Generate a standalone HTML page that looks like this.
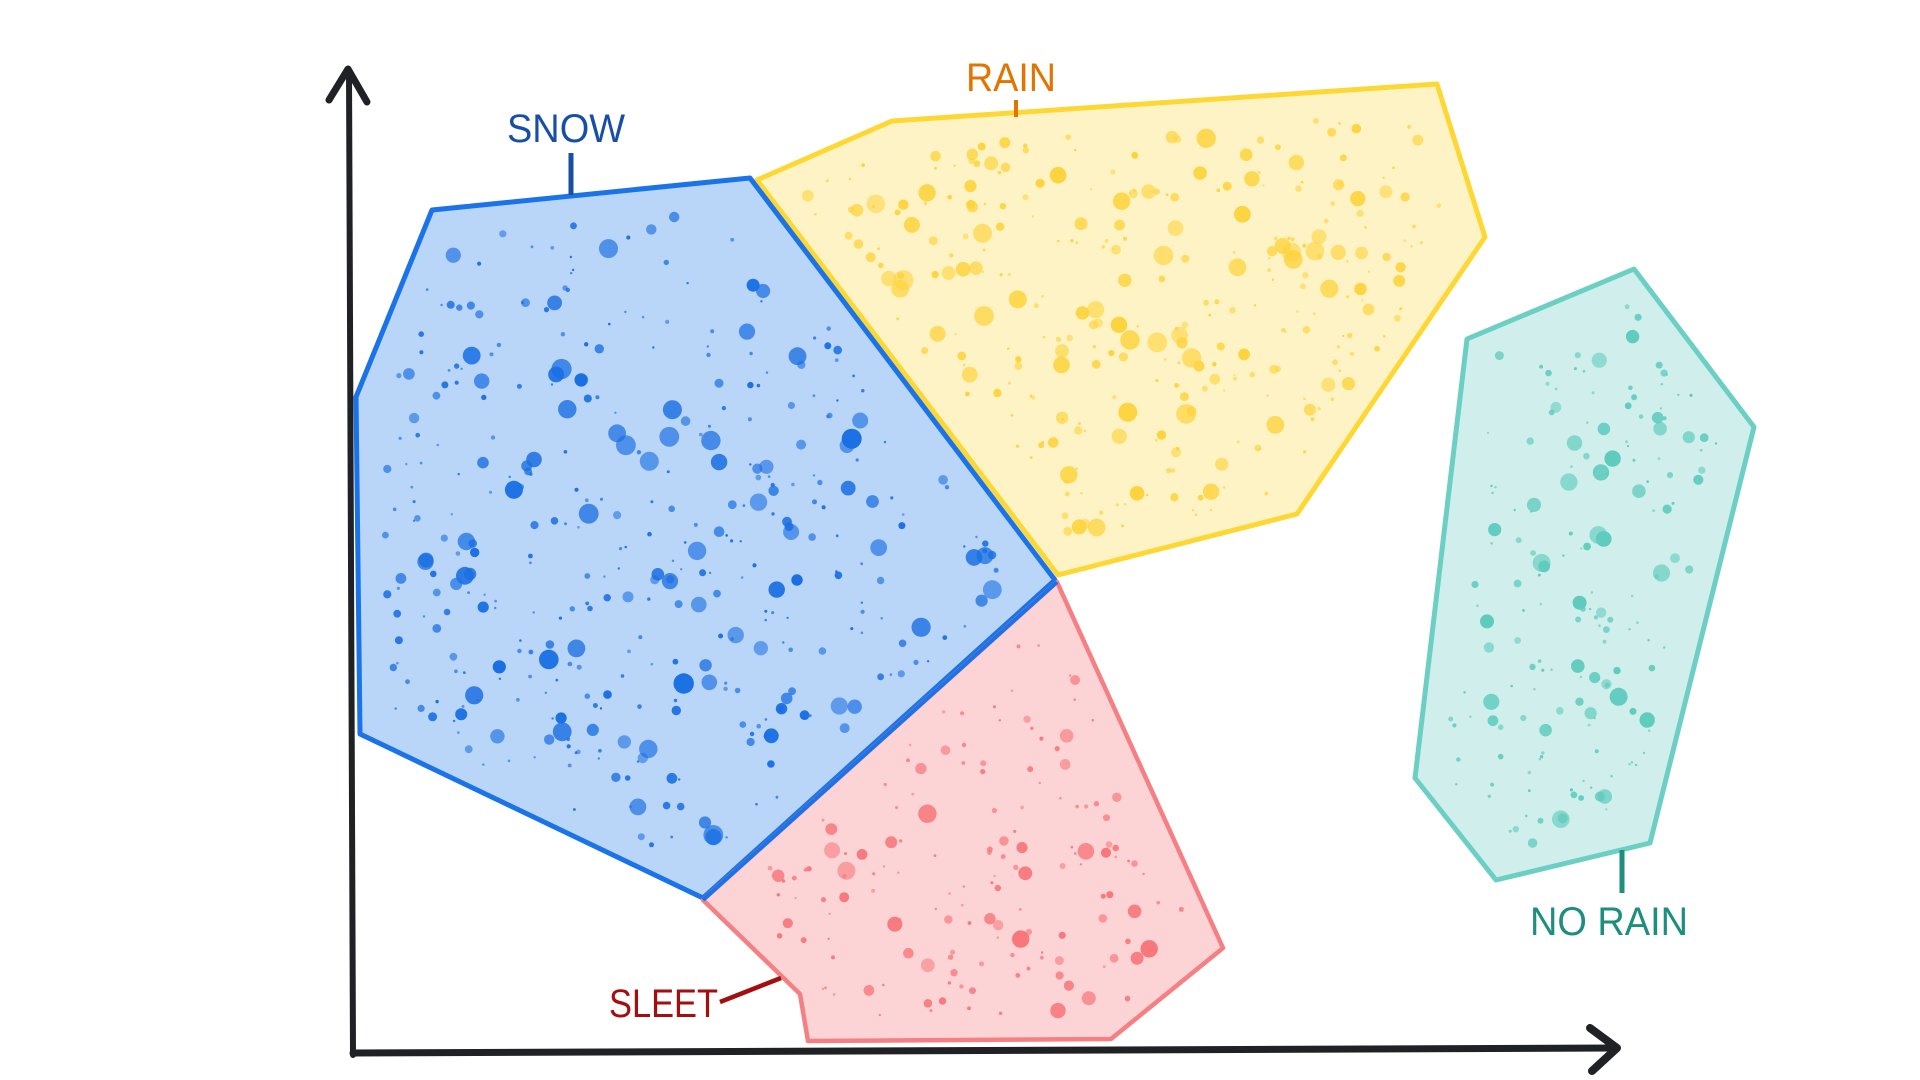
<!DOCTYPE html>
<html>
<head>
<meta charset="utf-8">
<style>
  html, body { margin:0; padding:0; background:#ffffff; }
  body { width:1920px; height:1080px; overflow:hidden; }
  svg { display:block; }
  .lbl { font-family: "Liberation Sans", sans-serif; font-size:40px; }
</style>
</head>
<body>
<svg id="chart" xmlns="http://www.w3.org/2000/svg" width="1920" height="1080" viewBox="0 0 1920 1080">
  <rect x="0" y="0" width="1920" height="1080" fill="#ffffff"/>

  <defs>
    <clipPath id="cRain"><polygon points="757,180 892,121 1437,84 1485,237 1297,514 1058,575"/></clipPath>
    <clipPath id="cSnow"><polygon points="432,210 750,178 1055,580 703,898 360,734 356,397"/></clipPath>
    <clipPath id="cSleet"><polygon points="1057,582 1223,948 1111,1039 808,1041 800,994 703,900"/></clipPath>
    <clipPath id="cNo"><polygon points="1634,269 1754,427 1650,843 1496,880 1415,778 1467,339"/></clipPath>
  </defs>

  <!-- RAIN -->
  <polygon points="757,180 892,121 1437,84 1485,237 1297,514 1058,575" fill="#fef3c4"/>
  <g id="dRain" clip-path="url(#cRain)"></g>
  <polygon points="757,180 892,121 1437,84 1485,237 1297,514 1058,575" fill="none" stroke="#fdd835" stroke-width="5" stroke-linejoin="round"/>

  <!-- SNOW -->
  <polygon points="432,210 750,178 1055,580 703,898 360,734 356,397" fill="#b9d5f7"/>
  <g id="dSnow" clip-path="url(#cSnow)"></g>
  <polygon points="432,210 750,178 1055,580 703,898 360,734 356,397" fill="none" stroke="#1a73e8" stroke-width="5" stroke-linejoin="round"/>

  <!-- SLEET -->
  <polygon points="1057,582 1223,948 1111,1039 808,1041 800,994 703,900" fill="#fdd4d6"/>
  <g id="dSleet" clip-path="url(#cSleet)"></g>
  <polygon points="1057,582 1223,948 1111,1039 808,1041 800,994 703,900" fill="none" stroke="#f57f82" stroke-width="4.5" stroke-linejoin="round"/>
  <line x1="703" y1="900" x2="1057" y2="582" stroke="#1a73e8" stroke-width="4"/>

  <!-- NO RAIN -->
  <polygon points="1634,269 1754,427 1650,843 1496,880 1415,778 1467,339" fill="#d0efec"/>
  <g id="dNo" clip-path="url(#cNo)"></g>
  <polygon points="1634,269 1754,427 1650,843 1496,880 1415,778 1467,339" fill="none" stroke="#6ccfc4" stroke-width="5" stroke-linejoin="round"/>

  <!-- Axes -->
  <g stroke="#202124" fill="none" stroke-linecap="round" stroke-linejoin="round">
    <line x1="353" y1="1055" x2="349" y2="72" stroke-width="6"/>
    <polyline points="329,100 348,69 367,102" stroke-width="7"/>
    <line x1="353" y1="1053" x2="1614" y2="1048" stroke-width="7"/>
    <polyline points="1590,1028 1617,1048 1592,1071" stroke-width="8"/>
  </g>

  <!-- Labels -->
  <text class="lbl" x="507" y="142" fill="#174ea6" textLength="118" lengthAdjust="spacingAndGlyphs">SNOW</text>
  <line x1="571" y1="153" x2="571" y2="195" stroke="#174ea6" stroke-width="5"/>

  <text class="lbl" x="966" y="91" fill="#e37400" textLength="90" lengthAdjust="spacingAndGlyphs">RAIN</text>
  <line x1="1016" y1="100" x2="1016" y2="117" stroke="#e37400" stroke-width="4"/>

  <text class="lbl" x="609" y="1017" fill="#a50e0e" textLength="109" lengthAdjust="spacingAndGlyphs">SLEET</text>
  <line x1="720" y1="1002" x2="781" y2="978" stroke="#a50e0e" stroke-width="4.5"/>

  <text class="lbl" x="1530" y="935" fill="#1e8e7e" textLength="158" lengthAdjust="spacingAndGlyphs">NO RAIN</text>
  <line x1="1622" y1="850" x2="1622" y2="893" stroke="#1e8e7e" stroke-width="5"/>
</svg>

<script>
(function(){
  var seed = 12345;
  function rnd(){ seed = (seed * 1664525 + 1013904223) % 4294967296; return seed / 4294967296; }
  function inside(pt, poly){
    var x=pt[0], y=pt[1], c=false;
    for (var i=0,j=poly.length-1;i<poly.length;j=i++){
      var xi=poly[i][0], yi=poly[i][1], xj=poly[j][0], yj=poly[j][1];
      if (((yi>y)!=(yj>y)) && (x < (xj-xi)*(y-yi)/(yj-yi)+xi)) c=!c;
    }
    return c;
  }
  function distSeg(p,a,b){
    var dx=b[0]-a[0], dy=b[1]-a[1];
    var t=((p[0]-a[0])*dx+(p[1]-a[1])*dy)/(dx*dx+dy*dy);
    t=Math.max(0,Math.min(1,t));
    var qx=a[0]+t*dx-p[0], qy=a[1]+t*dy-p[1];
    return Math.sqrt(qx*qx+qy*qy);
  }
  function minEdge(p,poly){
    var m=1e9;
    for (var i=0;i<poly.length;i++){ var d=distSeg(p,poly[i],poly[(i+1)%poly.length]); if(d<m)m=d; }
    return m;
  }
  var NS="http://www.w3.org/2000/svg";
  function fill(id, poly, n, color, margin, maxR){
    var g=document.getElementById(id);
    var minx=1e9,miny=1e9,maxx=-1e9,maxy=-1e9;
    poly.forEach(function(p){minx=Math.min(minx,p[0]);maxx=Math.max(maxx,p[0]);miny=Math.min(miny,p[1]);maxy=Math.max(maxy,p[1]);});
    var placed=0, tries=0;
    while(placed<n && tries<n*60){
      tries++;
      var p=[minx+rnd()*(maxx-minx), miny+rnd()*(maxy-miny)];
      if(!inside(p,poly)) continue;
      var r=1.2+maxR*Math.pow(rnd(),2.6);
      if(minEdge(p,poly)<r+margin) continue;
      var c=document.createElementNS(NS,"circle");
      c.setAttribute("cx",p[0].toFixed(1));
      c.setAttribute("cy",p[1].toFixed(1));
      c.setAttribute("r",r.toFixed(1));
      c.setAttribute("fill",color);
      c.setAttribute("opacity",(0.55+0.45*rnd()).toFixed(2));
      g.appendChild(c);
      placed++;
    }
  }
  fill("dSnow", [[432,210],[750,178],[1055,580],[703,898],[360,734],[356,397]], 380, "#1a6fe3", 22, 9);
  fill("dRain", [[757,180],[892,121],[1437,84],[1485,237],[1297,514],[1058,575]], 300, "#fdd33c", 22, 9);
  fill("dSleet", [[1057,582],[1223,948],[1111,1039],[808,1041],[800,994],[703,900]], 150, "#f7777b", 18, 8);
  fill("dNo", [[1634,269],[1754,427],[1650,843],[1496,880],[1415,778],[1467,339]], 170, "#5ecbbd", 22, 8);
})();
</script>
</body>
</html>
